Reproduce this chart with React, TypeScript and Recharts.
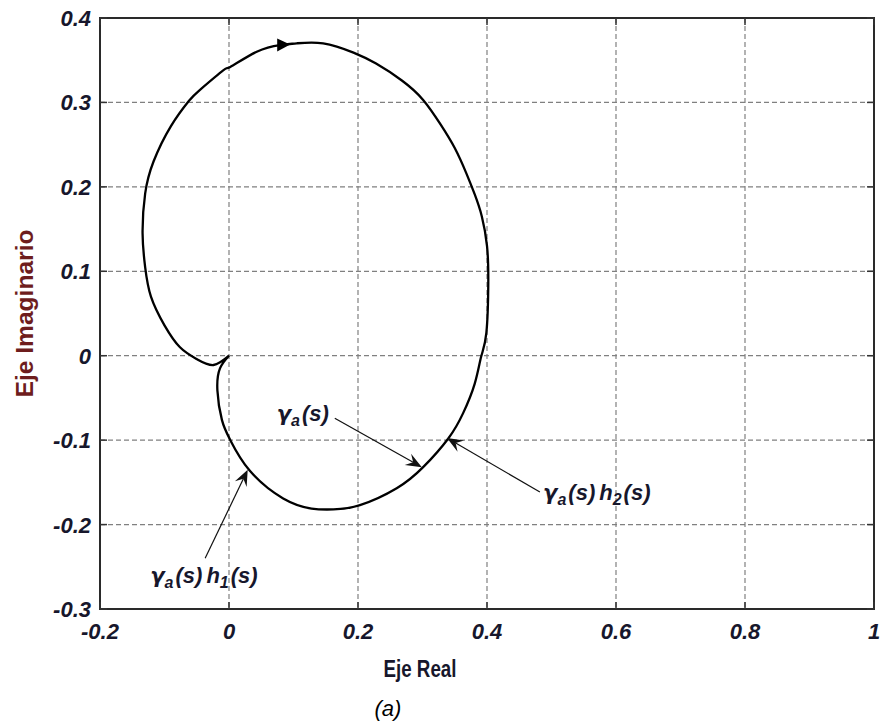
import React from "react";
import {
  ComposedChart,
  Line,
  Scatter,
  XAxis,
  YAxis,
  CartesianGrid,
  ReferenceArea,
  ReferenceLine,
} from "recharts";

/* Nyquist locus of gamma_a(s) in the complex plane, with annotations for the
 * points where the h1 / h2 compensated loci touch it. Styled after a MATLAB
 * figure: boxed axes, dashed grid, inward ticks, bold italic tick labels. */

// closed contour, starting at the origin and running clockwise
const locusRe = [
  0, -0.024, -0.05, -0.076, -0.1, -0.121, -0.13, -0.134, -0.13, -0.117, -0.09,
  -0.062, -0.045, -0.009, 0.002, 0.043, 0.079, 0.105, 0.146, 0.193, 0.228,
  0.268, 0.301, 0.328, 0.35, 0.368, 0.381, 0.392, 0.4, 0.402, 0.399, 0.391,
  0.381, 0.363, 0.34, 0.301, 0.26, 0.203, 0.162, 0.128, 0.084, 0.032, 0.002,
  -0.011, -0.018, -0.014, 0,
];
const locusIm = [
  0, -0.011, -0.004, 0.01, 0.036, 0.07, 0.105, 0.145, 0.192, 0.23, 0.272,
  0.302, 0.315, 0.338, 0.342, 0.36, 0.368, 0.37, 0.37, 0.359, 0.346, 0.326,
  0.303, 0.274, 0.246, 0.216, 0.191, 0.165, 0.13, 0.086, 0.027, -0.001, -0.033,
  -0.068, -0.098, -0.132, -0.157, -0.177, -0.182, -0.181, -0.169, -0.136,
  -0.1, -0.076, -0.041, -0.015, 0,
];

// direction marker on the top of the contour
const flowMarker = [{ x: 0.084, y: 0.368 }];

// annotation arrows: tail near the label, head on the locus
const noteTails = [
  { x: 0.164, y: -0.074 },
  { x: 0.482, y: -0.1615 },
  { x: -0.037, y: -0.24 },
];
const noteHeads = [
  { x: 0.299, y: -0.132 },
  { x: 0.338, y: -0.0975 },
  { x: 0.029, y: -0.135 },
];
// label anchors (left end of baseline) and the h-index each one carries
const noteLabels = [
  { x: 0.074, y: -0.077, h: "" },
  { x: 0.487, y: -0.171, h: "2" },
  { x: -0.122, y: -0.269, h: "1" },
];

const xTicks = [-0.2, 0, 0.2, 0.4, 0.6, 0.8, 1];
const yTicks = [-0.3, -0.2, -0.1, 0, 0.1, 0.2, 0.3, 0.4];

const locus = locusRe.map((re, i) => ({ x: re, y: locusIm[i] }));

const W = 883;
const H = 725;
const PLOT = { left: 100, right: 874, top: 18, bottom: 609 };
const INK = "#17172c";
const FONT = "'Liberation Sans', Arial, sans-serif";

function YTick({ y, payload }: any) {
  return (
    <g>
      <line x1={PLOT.left} x2={PLOT.left + 7} y1={y} y2={y} stroke="#333" strokeWidth={1.5} />
      <line x1={PLOT.right} x2={PLOT.right - 7} y1={y} y2={y} stroke="#333" strokeWidth={1.5} />
      <text
        x={PLOT.left - 9}
        y={y + 8}
        textAnchor="end"
        fontFamily={FONT}
        fontSize={22}
        fontWeight="bold"
        fontStyle="italic"
        fill={INK}
      >
        {String(payload.value)}
      </text>
    </g>
  );
}

function XTick({ x, payload }: any) {
  return (
    <g>
      <line x1={x} x2={x} y1={PLOT.bottom} y2={PLOT.bottom - 7} stroke="#333" strokeWidth={1.5} />
      <line x1={x} x2={x} y1={PLOT.top} y2={PLOT.top + 7} stroke="#333" strokeWidth={1.5} />
      <text
        x={x}
        y={PLOT.bottom + 30}
        textAnchor="middle"
        fontFamily={FONT}
        fontSize={22}
        fontWeight="bold"
        fontStyle="italic"
        fill={INK}
      >
        {String(payload.value)}
      </text>
    </g>
  );
}

function XTitle({ viewBox }: any) {
  const vx = viewBox?.x ?? PLOT.left;
  const vy = viewBox?.y ?? PLOT.bottom;
  return (
    <g>
      <text
        x={vx + 320}
        y={vy + 68}
        textAnchor="middle"
        fontFamily={FONT}
        fontSize={24}
        fontWeight="bold"
        fill={INK}
        textLength={73}
        lengthAdjust="spacingAndGlyphs"
      >
        Eje Real
      </text>
      <text
        x={vx + 288}
        y={vy + 107}
        textAnchor="middle"
        fontFamily={FONT}
        fontSize={22}
        fontStyle="italic"
        fill="#000"
      >
        (a)
      </text>
    </g>
  );
}

function YTitle({ viewBox }: any) {
  const cy = viewBox ? viewBox.y + viewBox.height / 2 : (PLOT.top + PLOT.bottom) / 2;
  return (
    <text
      x={33}
      y={cy}
      transform={`rotate(-90, 33, ${cy})`}
      textAnchor="middle"
      fontFamily={FONT}
      fontSize={23}
      fontWeight="bold"
      fill="#6e1d1d"
      textLength={168}
      lengthAdjust="spacingAndGlyphs"
    >
      Eje Imaginario
    </text>
  );
}

// thin line with a notched arrowhead at (x2, y2)
function Pointer({ x1, y1, x2, y2 }: any) {
  const a = Math.atan2(y2 - y1, x2 - x1);
  const ux = Math.cos(a);
  const uy = Math.sin(a);
  const len = 16;
  const half = 6.5;
  const notch = 10;
  const bx = x2 - ux * len;
  const by = y2 - uy * len;
  const nx = x2 - ux * notch;
  const ny = y2 - uy * notch;
  const pts = [
    [x2, y2],
    [bx - uy * half, by + ux * half],
    [nx, ny],
    [bx + uy * half, by - ux * half],
  ]
    .map((p) => p.join(","))
    .join(" ");
  return (
    <g>
      <line x1={x1} y1={y1} x2={nx} y2={ny} stroke="#111" strokeWidth={1.2} />
      <polygon points={pts} fill="#111" />
    </g>
  );
}

function FlowHead({ cx, cy }: any) {
  return (
    <polygon
      points={`${cx - 6},${cy - 6.5} ${cx + 7},${cy - 0.5} ${cx - 6},${cy + 6.5}`}
      fill="#000"
    />
  );
}

function NoteText({ cx, cy, payload }: any) {
  const h = payload?.h ?? "";
  return (
    <text
      x={cx}
      y={cy}
      fontFamily={FONT}
      fontSize={22}
      fontWeight="bold"
      fontStyle="italic"
      fill={INK}
    >
      <tspan fontFamily="'DejaVu Sans', sans-serif" fontSize={21}>γ</tspan>
      <tspan fontSize={16} dy={5}>a</tspan>
      <tspan dy={-5} dx={2}>(s)</tspan>
      {h && (
        <>
          <tspan dx={4}>h</tspan>
          <tspan fontSize={16} dy={5}>{h}</tspan>
          <tspan dy={-5} dx={2}>(s)</tspan>
        </>
      )}
    </text>
  );
}

export default function App() {
  return (
    <div style={{ position: "absolute", left: 0, top: 0, width: W, height: H, background: "#fff" }}>
      <ComposedChart
        width={W}
        height={H}
        margin={{ top: PLOT.top, right: W - PLOT.right, bottom: 76, left: 0 }}
      >
        <CartesianGrid stroke="#808080" strokeWidth={1.2} strokeDasharray="5 3" />
        <XAxis
          type="number"
          dataKey="x"
          domain={[-0.2, 1]}
          ticks={xTicks}
          interval={0}
          allowDataOverflow
          height={40}
          axisLine={false}
          tickLine={false}
          tick={<XTick />}
          label={{ content: <XTitle /> }}
        />
        <YAxis
          type="number"
          dataKey="y"
          domain={[-0.3, 0.4]}
          ticks={yTicks}
          interval={0}
          allowDataOverflow
          width={PLOT.left}
          axisLine={false}
          tickLine={false}
          tick={<YTick />}
          label={{ content: <YTitle /> }}
        />
        <ReferenceArea
          x1={-0.2}
          x2={1}
          y1={-0.3}
          y2={0.4}
          fill="none"
          fillOpacity={0}
          stroke="#2a2a2a"
          strokeWidth={2}
        />
        <Line
          data={locus}
          dataKey="y"
          type="natural"
          stroke="#000"
          strokeWidth={2.3}
          strokeLinejoin="round"
          dot={false}
          activeDot={false}
          isAnimationActive={false}
        />
        <Scatter data={flowMarker} shape={<FlowHead />} isAnimationActive={false} />
        {noteTails.map((t, i) => (
          <ReferenceLine
            key={i}
            segment={[t, noteHeads[i]]}
            shape={<Pointer />}
          />
        ))}
        <Scatter data={noteLabels} shape={<NoteText />} isAnimationActive={false} />
      </ComposedChart>
    </div>
  );
}
